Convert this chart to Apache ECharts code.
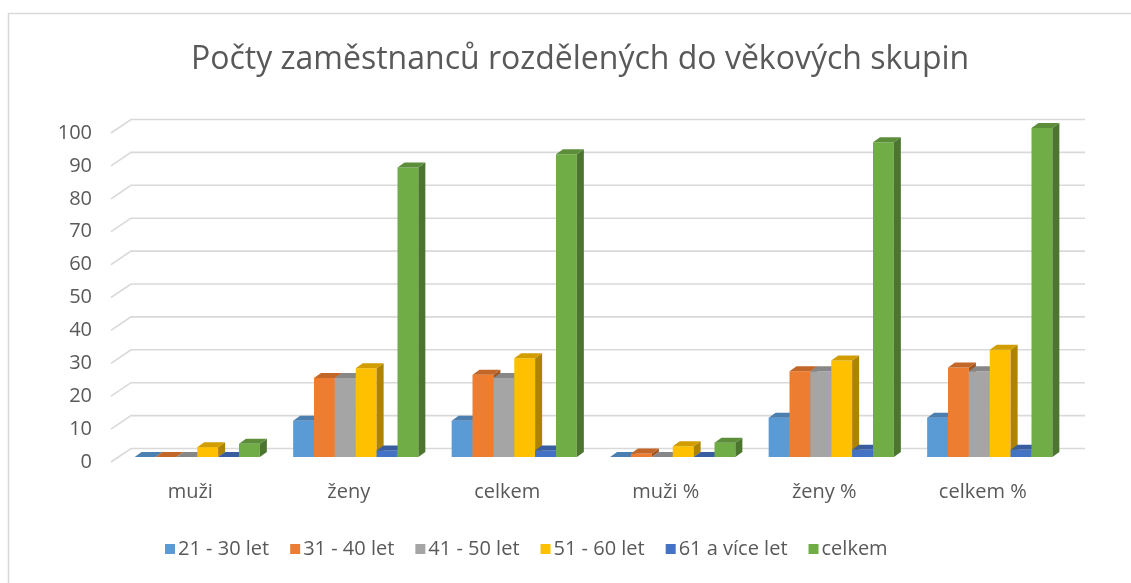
<!DOCTYPE html>
<html>
<head>
<meta charset="utf-8">
<script src="https://cdn.jsdelivr.net/npm/echarts@6/dist/echarts.min.js"></script>
<style>
html,body{margin:0;padding:0;background:#fff;}
#chart{width:1131px;height:583px;}
</style>
</head>
<body>
<div id="chart"></div>
<script>
const categories = ['muži', 'ženy', 'celkem', 'muži %', 'ženy %', 'celkem %'];
const seriesNames = ['21 - 30 let', '31 - 40 let', '41 - 50 let', '51 - 60 let', '61 a více let', 'celkem'];
const s2130 = [0, 11, 11, 0, 11.96, 11.96];
const s3140 = [0, 24, 25, 1.09, 26.09, 27.17];
const s4150 = [0, 24, 24, 0, 26.09, 26.09];
const s5160 = [3, 27, 30, 3.26, 29.35, 32.61];
const s61 = [0, 2, 2, 0, 2.17, 2.17];
const sCelkem = [4, 88, 92, 4.35, 95.65, 100];
const seriesValues = [s2130, s3140, s4150, s5160, s61, sCelkem];
const colors = ['#5B9BD5', '#ED7D31', '#A5A5A5', '#FFC000', '#4472C4', '#70AD47'];
const yTicks = [0, 10, 20, 30, 40, 50, 60, 70, 80, 90, 100];

function shade(hex, f) {
  const n = parseInt(hex.slice(1), 16);
  const r = Math.round(((n >> 16) & 255) * f), g = Math.round(((n >> 8) & 255) * f), b = Math.round((n & 255) * f);
  return 'rgb(' + r + ',' + g + ',' + b + ')';
}

const DEPTH_X = 20, DEPTH_Y = 13.5;
const BAR_DX = 7, BAR_DY = 5, SIDE_D = 7, SIDE_H = 5;
const GROUP_FRAC = 0.79;
const FONT = '"Open Sans", sans-serif';

const chart = echarts.init(document.getElementById('chart'));

const gridSeries = {
  type: 'custom',
  z: 1,
  silent: true,
  data: yTicks.map(t => [0, t]),
  renderItem: function (params, api) {
    const cs = params.coordSys;
    const y = api.coord([0, api.value(1)])[1];
    const x0 = cs.x;
    const x1 = cs.x + cs.width + DEPTH_X + 3;
    return {
      type: 'polyline',
      shape: { points: [[x0, y], [x0 + DEPTH_X, y - DEPTH_Y], [x1, y - DEPTH_Y]] },
      style: { stroke: '#D9D9D9', lineWidth: 1.6, fill: null }
    };
  }
};

const barSeries = seriesValues.map((vals, s) => ({
  name: seriesNames[s],
  type: 'custom',
  z: 2,
  itemStyle: { color: colors[s] },
  data: vals.map((v, i) => [i, v]),
  renderItem: function (params, api) {
    const cat = api.value(0), v = api.value(1);
    const base = api.coord([cat, 0]);
    const top = api.coord([cat, v]);
    const band = api.size([1, 0])[0];
    const gw = band * GROUP_FRAC;
    const w = gw / 6;
    const x0 = base[0] - gw / 2 + s * w + BAR_DX;
    const yb = base[1] - BAR_DY;
    const yt = top[1] - BAR_DY;
    const c = colors[s];
    return {
      type: 'group',
      children: [
        { type: 'rect', shape: { x: x0, y: yt, width: w, height: yb - yt }, style: { fill: c } },
        { type: 'polygon', shape: { points: [[x0 + w, yt], [x0 + w + SIDE_D, yt - SIDE_H], [x0 + w + SIDE_D, yb - SIDE_H], [x0 + w, yb]] }, style: { fill: shade(c, 0.68) } },
        { type: 'polygon', shape: { points: [[x0, yt], [x0 + SIDE_D, yt - SIDE_H], [x0 + w + SIDE_D, yt - SIDE_H], [x0 + w, yt]] }, style: { fill: shade(c, 0.82) } }
      ]
    };
  }
}));

chart.setOption({
  animation: false,
  backgroundColor: '#fff',
  textStyle: { fontFamily: FONT },
  graphic: [{
    type: 'rect', z: -10, silent: true,
    shape: { x: 8.5, y: 13.5, width: 1140, height: 590 },
    style: { fill: null, stroke: '#D9D9D9', lineWidth: 1.5 }
  }],
  title: {
    text: 'Počty zaměstnanců rozdělených do věkových skupin',
    left: 186,
    top: 39,
    textStyle: { fontFamily: FONT, fontSize: 32, fontWeight: 'normal', color: '#595959' }
  },
  legend: {
    data: seriesNames,
    bottom: 19,
    left: 160,
    itemWidth: 10,
    itemHeight: 10,
    itemGap: 21,
    icon: 'rect',
    textStyle: { fontSize: 20, color: '#595959', fontFamily: FONT, padding: [0, 0, 0, -2] }
  },
  grid: { left: 111, top: 133, width: 951, height: 329 },
  xAxis: {
    type: 'category',
    data: categories,
    axisLine: { show: false },
    axisTick: { show: false },
    axisLabel: { fontSize: 20, color: '#595959', margin: 20, fontFamily: FONT }
  },
  yAxis: {
    type: 'value',
    min: 0,
    max: 100,
    interval: 10,
    axisLine: { show: false },
    axisTick: { show: false },
    splitLine: { show: false },
    axisLabel: { fontSize: 20, color: '#595959', margin: 19, fontFamily: FONT }
  },
  series: [gridSeries].concat(barSeries)
});
</script>
</body>
</html>
